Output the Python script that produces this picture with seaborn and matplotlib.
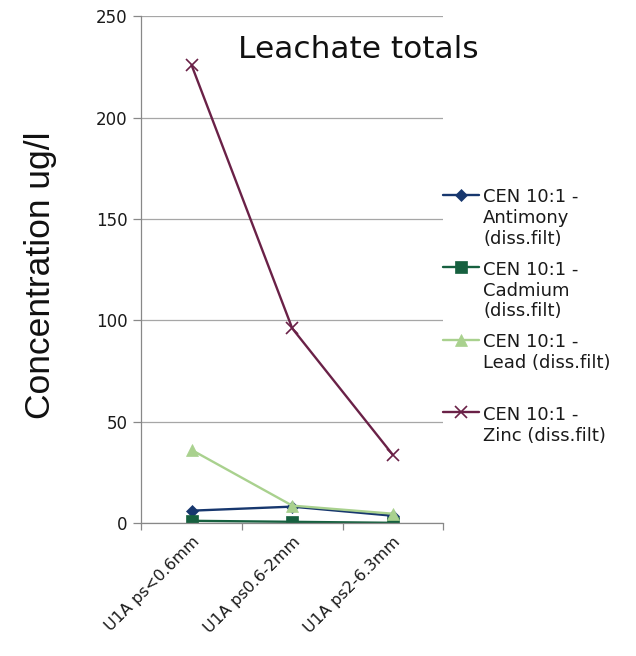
import matplotlib
matplotlib.use("Agg")
import matplotlib.pyplot as plt
from matplotlib.ticker import FixedLocator, NullFormatter
import seaborn as sns
import pandas as pd

# Sample fractions (x axis)
categories = ["U1A ps<0.6mm", "U1A ps0.6-2mm", "U1A ps2-6.3mm"]

# Leachate concentrations, ug/l
antimony = [6.0, 8.0, 3.5]
cadmium = [1.0, 0.5, 0.0]
lead = [36.0, 8.5, 4.5]
zinc = [226.0, 96.0, 33.5]

series_labels = [
    "CEN 10:1 -\nAntimony\n(diss.filt)",
    "CEN 10:1 -\nCadmium\n(diss.filt)",
    "CEN 10:1 -\nLead (diss.filt)\n ",
    "CEN 10:1 -\nZinc (diss.filt)",
]
y_ticks = [0, 50, 100, 150, 200, 250]

sns.set_theme(style="white")
plt.rcParams["font.family"] = ["DejaVu Sans"]

colors = ["#17376e", "#16603f", "#a9d18e", "#6a2147"]
markers = ["D", "s", "^", "x"]
msizes = [6, 8, 8, 9]

frames = []
for label, vals in zip(series_labels, [antimony, cadmium, lead, zinc]):
    frames.append(pd.DataFrame({"sample": categories, "value": vals, "series": label}))
df = pd.concat(frames, ignore_index=True)

fig = plt.figure(figsize=(6.36, 6.56), dpi=100)
ax = fig.add_axes([0.222, 0.203, 0.475, 0.772])

for label, color, mk, ms in zip(series_labels, colors, markers, msizes):
    sub = df[df["series"] == label]
    sns.lineplot(data=sub, x="sample", y="value", ax=ax, color=color,
                 marker=mk, markersize=ms, linewidth=1.7,
                 markeredgecolor=color, markeredgewidth=1.2 if mk == "x" else 0.5,
                 label=label, sort=False)

ax.set_xlim(-0.5, 2.5)
ax.set_ylim(0, 250)
ax.set_yticks(y_ticks)
ax.yaxis.grid(True, color="#a6a6a6", linewidth=0.9)
ax.set_axisbelow(True)

# category labels at centres, tick marks at category boundaries
ax.set_xticks([0, 1, 2])
ax.set_xticklabels(categories, rotation=45, ha="right", rotation_mode="anchor",
                   fontsize=11.5, color="#1a1a1a")
ax.tick_params(axis="x", which="major", length=0, pad=8)
ax.xaxis.set_minor_locator(FixedLocator([-0.5, 0.5, 1.5, 2.5]))
ax.xaxis.set_minor_formatter(NullFormatter())
ax.tick_params(axis="x", which="minor", bottom=True, length=5, width=0.9, color="#888888")
ax.tick_params(axis="y", left=True, length=6, width=0.9, color="#888888",
               labelsize=12, labelcolor="#1a1a1a", pad=4)

for side in ["top", "right"]:
    ax.spines[side].set_visible(False)
for side in ["left", "bottom"]:
    ax.spines[side].set_color("#888888")
    ax.spines[side].set_linewidth(0.9)

ax.set_xlabel("")
ax.set_ylabel("")
fig.text(0.063, 0.58, "Concentration ug/l", rotation=90, ha="center", va="center",
         fontsize=25.5, family=["Liberation Sans", "DejaVu Sans"], color="#111111")

ax.text(0.72, 0.935, "Leachate totals", transform=ax.transAxes, ha="center",
        va="center", fontsize=22.5, color="#111111")

leg = ax.legend(loc="upper left", bbox_to_anchor=(0.697, 0.713),
                bbox_transform=fig.transFigure, frameon=False, fontsize=13,
                handlelength=2.0, handletextpad=0.2, labelspacing=0.72,
                borderpad=0, borderaxespad=0)
for txt in leg.get_texts():
    txt.set_linespacing(1.2)
    txt.set_color("#1a1a1a")
for col in leg._legend_handle_box.get_children():
    for row in col.get_children():
        row.align = "top"

fig.savefig("out.png", dpi=100, facecolor="white")
